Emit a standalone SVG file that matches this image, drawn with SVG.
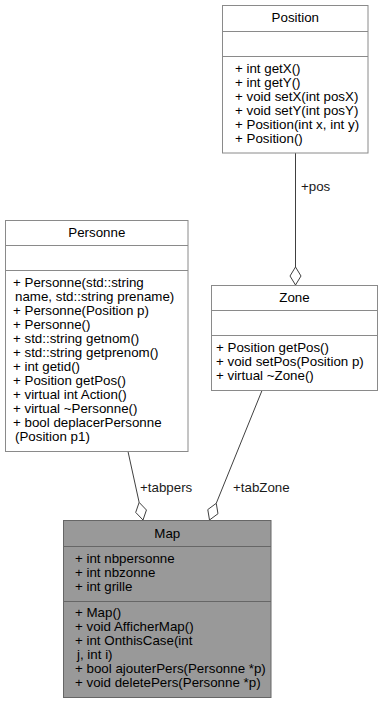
<svg xmlns="http://www.w3.org/2000/svg" width="384" height="705" viewBox="0 0 384 705">
  <style>
    text { font-family: "Liberation Sans", Arial, Helvetica, sans-serif; font-size: 13.33px; fill: #000; }
    .title { text-anchor: middle; }
    .box { fill: #fff; stroke: #8a8a8a; stroke-width: 1; }
    .main { fill: #999999; stroke: #666666; stroke-width: 1; }
    .sep { stroke: #8a8a8a; stroke-width: 1; }
    .msep { stroke: #666666; stroke-width: 1; }
    .edge { stroke: #404040; stroke-width: 1; fill: none; }
    .agg { stroke: #404040; stroke-width: 1; fill: #fff; }
    .lbl { fill: #1a1a1a; }
  </style>
  <rect width="384" height="705" fill="#fff"/>

  <!-- associations (aggregation, hollow diamond at the owner) -->
  <g id="connectors">
    <line class="edge" x1="295.5" y1="153" x2="295.5" y2="267"/>
    <polygon class="agg" points="295.5,285 301,276 295.5,267 290,276"/>
    <text class="lbl" x="301" y="191">+pos</text>

    <line class="edge" x1="128" y1="451.5" x2="139.15" y2="502.4"/>
    <polygon class="agg" points="143,520 146.44,510 139.15,502.4 135.7,512.4"/>
    <text class="lbl" x="140" y="492">+tabpers</text>

    <line class="edge" x1="262" y1="390.5" x2="216.26" y2="503.31"/>
    <polygon class="agg" points="209.5,520 217.98,513.73 216.26,503.31 207.78,509.59"/>
    <text class="lbl" x="233" y="492">+tabZone</text>
  </g>

  <!-- class Position -->
  <g id="Position">
    <rect class="box" x="222.5" y="5.5" width="145.5" height="147.5"/>
    <line class="sep" x1="222.5" y1="31.5" x2="368" y2="31.5"/>
    <line class="sep" x1="222.5" y1="56.5" x2="368" y2="56.5"/>
    <text class="title" x="295.3" y="22">Position</text>
    <text x="235" y="73">+ int getX()</text>
    <text x="235" y="87">+ int getY()</text>
    <text x="235" y="101">+ void setX(int posX)</text>
    <text x="235" y="115">+ void setY(int posY)</text>
    <text x="235" y="129">+ Position(int x, int y)</text>
    <text x="235" y="143">+ Position()</text>
  </g>

  <!-- class Personne -->
  <g id="Personne">
    <rect class="box" x="5.5" y="220.5" width="182.5" height="231"/>
    <line class="sep" x1="5.5" y1="245.5" x2="188" y2="245.5"/>
    <line class="sep" x1="5.5" y1="270.5" x2="188" y2="270.5"/>
    <text class="title" x="96.8" y="237">Personne</text>
    <text x="13" y="287">+ Personne(std::string</text>
    <text x="15" y="301">name, std::string prename)</text>
    <text x="13" y="315">+ Personne(Position p)</text>
    <text x="13" y="329">+ Personne()</text>
    <text x="13" y="343">+ std::string getnom()</text>
    <text x="13" y="357">+ std::string getprenom()</text>
    <text x="13" y="371">+ int getid()</text>
    <text x="13" y="385">+ Position getPos()</text>
    <text x="13" y="399">+ virtual int Action()</text>
    <text x="13" y="413">+ virtual ~Personne()</text>
    <text x="13" y="427">+ bool deplacerPersonne</text>
    <text x="15" y="441">(Position p1)</text>
  </g>

  <!-- class Zone -->
  <g id="Zone">
    <rect class="box" x="211.5" y="285.5" width="166" height="105"/>
    <line class="sep" x1="211.5" y1="310.5" x2="377.5" y2="310.5"/>
    <line class="sep" x1="211.5" y1="335.5" x2="377.5" y2="335.5"/>
    <text class="title" x="294.5" y="302">Zone</text>
    <text x="216" y="352">+ Position getPos()</text>
    <text x="216" y="366">+ void setPos(Position p)</text>
    <text x="216" y="380">+ virtual ~Zone()</text>
  </g>

  <!-- class Map -->
  <g id="Map">
    <rect class="main" x="63.5" y="520.5" width="207.5" height="177"/>
    <line class="msep" x1="63.5" y1="546.5" x2="271" y2="546.5"/>
    <line class="msep" x1="63.5" y1="601.5" x2="271" y2="601.5"/>
    <text class="title" x="167.3" y="538">Map</text>
    <text x="75" y="563">+ int nbpersonne</text>
    <text x="75" y="577">+ int nbzonne</text>
    <text x="75" y="591">+ int grille</text>
    <text x="75" y="617">+ Map()</text>
    <text x="75" y="631">+ void AfficherMap()</text>
    <text x="75" y="645">+ int OnthisCase(int</text>
    <text x="77" y="659">j, int i)</text>
    <text x="75" y="673">+ bool ajouterPers(Personne *p)</text>
    <text x="75" y="687">+ void deletePers(Personne *p)</text>
  </g>
</svg>
